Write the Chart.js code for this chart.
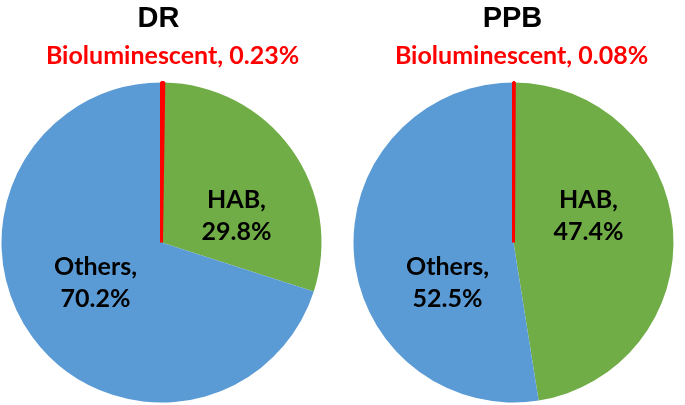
<!DOCTYPE html>
<html>
<head>
<meta charset="utf-8">
<script src="https://cdn.jsdelivr.net/npm/chart.js@4/dist/chart.umd.min.js"></script>
<style>
  html, body { margin: 0; padding: 0; background: #ffffff; }
  #wrap { position: relative; width: 685px; height: 405px; overflow: hidden; }
  .box { position: absolute; top: 0; height: 405px; }
</style>
</head>
<body>
<div id="wrap">
  <div class="box" id="boxL" style="left:0px;width:343px;"><canvas id="cL"></canvas></div>
  <div class="box" id="boxR" style="left:342px;width:343px;"><canvas id="cR"></canvas></div>
</div>
<script>
// ---- data ----
const categories = ['Bioluminescent', 'HAB', 'Others'];
const drValues = [0.23, 29.8, 70.2];
const ppbValues = [0.08, 47.4, 52.5];
const panelTitles = ['DR', 'PPB'];

// ---- styles ----
const sliceColors = ['#FF0000', '#70AD47', '#5B9BD5'];
const labelFont = 'bold 25px Lato, "Open Sans", sans-serif';
const subFont = 'bold 25px Lato, "Open Sans", sans-serif';
const titleFont = 'bold 29px "Liberation Sans", Arial, sans-serif';

const textPlugin = {
  id: 'pieText',
  afterDatasetsDraw(chart) {
    // draw the tiny red slice again on top so its border line stays visible
    const meta = chart.getDatasetMeta(0);
    meta.data[0].draw(chart.ctx);
  },
  afterDraw(chart) {
    const o = chart.options.plugins.pieText;
    const ctx = chart.ctx;
    const meta = chart.getDatasetMeta(0);
    const arc = meta.data[0];
    const cx = arc.x, cy = arc.y;
    const labels = chart.data.labels;
    const vals = chart.data.datasets[0].data;
    ctx.save();
    ctx.textAlign = 'center';
    ctx.textBaseline = 'alphabetic';
    ctx.font = titleFont;
    ctx.fillStyle = '#000000';
    ctx.fillText(o.title, cx + o.titleDx, o.titleY);
    ctx.font = subFont;
    ctx.fillStyle = '#FF0000';
    ctx.fillText(labels[0] + ', ' + vals[0] + '%', cx + o.subDx, o.subY);
    ctx.font = labelFont;
    ctx.fillStyle = '#000000';
    const pos = [null, o.habPos, o.othPos];
    for (let i = 1; i < labels.length; i++) {
      const p = pos[i];
      ctx.fillText(labels[i] + ',', cx + p[0], cy + p[1]);
      ctx.fillText(vals[i].toFixed(1) + '%', cx + p[0], cy + p[1] + 32);
    }
    ctx.restore();
  }
};

function makePie(id, values, title, padL, padR, subDx, titleDx) {
  return new Chart(document.getElementById(id), {
    type: 'pie',
    data: {
      labels: categories,
      datasets: [{
        data: values,
        backgroundColor: sliceColors,
        borderColor: sliceColors,
        borderWidth: [3, 0, 0],
        hoverOffset: 0
      }]
    },
    options: {
      responsive: true,
      maintainAspectRatio: false,
      animation: false,
      layout: { padding: { top: 80, bottom: 0, left: padL, right: padR } },
      plugins: {
        legend: { display: false },
        tooltip: { enabled: false },
        title: { display: false },
        pieText: {
          title: title, titleDx: titleDx, titleY: 27,
          subDx: subDx, subY: 64,
          habPos: [75, -35],
          othPos: [-66, 32]
        }
      }
    },
    plugins: [textPlugin]
  });
}

makePie('cL', drValues, panelTitles[0], 0, 20, 11, -3);
makePie('cR', ppbValues, panelTitles[1], 10, 10, 8, -1);
</script>
</body>
</html>
